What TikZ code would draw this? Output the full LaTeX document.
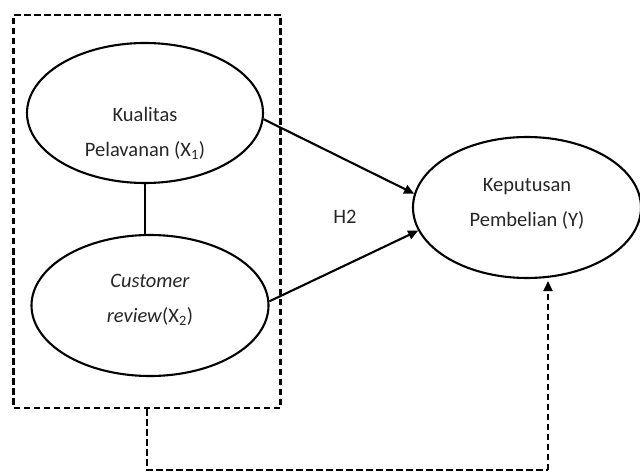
\documentclass[tikz,border=0pt]{standalone}
\usepackage{fontspec}
\setmainfont{Carlito}
\usetikzlibrary{shapes.geometric,arrows.meta}
\begin{document}
\begin{tikzpicture}[x=1pt,y=-1pt,
  oval/.style={draw,ellipse,line width=2.1pt,inner sep=0pt},
  lbl/.style={align=center,font=\fontsize{20.5}{35}\selectfont,inner sep=0pt,text=black!85},
  link/.style={line width=2.1pt},
  arr/.style={line width=2.1pt,-{Triangle[length=10pt,width=9pt]}},
  dsh/.style={line width=2.2pt,dash pattern=on 6.5pt off 3.5pt}]
\useasboundingbox (0,0) rectangle (640,473);
\node[oval,minimum width=236pt,minimum height=140pt] (k) at (145,113) {};
\node[oval,minimum width=237pt,minimum height=141pt] (c) at (150,305.5) {};
\node[oval,minimum width=228pt,minimum height=141pt] (y) at (527,207.5) {};
\node[lbl] (kt) at (145,133) {Kualitas\\Pelavanan (X\textsubscript{1})};
\node[lbl] (ct) at (150,300) {\textit{Customer}\\\textit{review}(X\textsubscript{2})};
\node[lbl] (yt) at (527,204) {Keputusan\\Pembelian (Y)};
\node[lbl] (h2) at (345,217) {H2};
\node[dsh,draw,minimum width=267pt,minimum height=393pt,inner sep=0pt] (box) at (147,211.5) {};
\coordinate (turn) at (548,470);
\coordinate (yin) at (548,281);
\draw[link] (k.south) -- (k.south |- c.north);
\draw[arr] (k.-3) -- (y.173);
\draw[arr] (c.2) -- (y.192);
\draw[dsh] (box.south) |- (turn);
\draw[dsh,-{Triangle[length=10pt,width=9pt]}] (turn) -- (yin);
\end{tikzpicture}
\end{document}
